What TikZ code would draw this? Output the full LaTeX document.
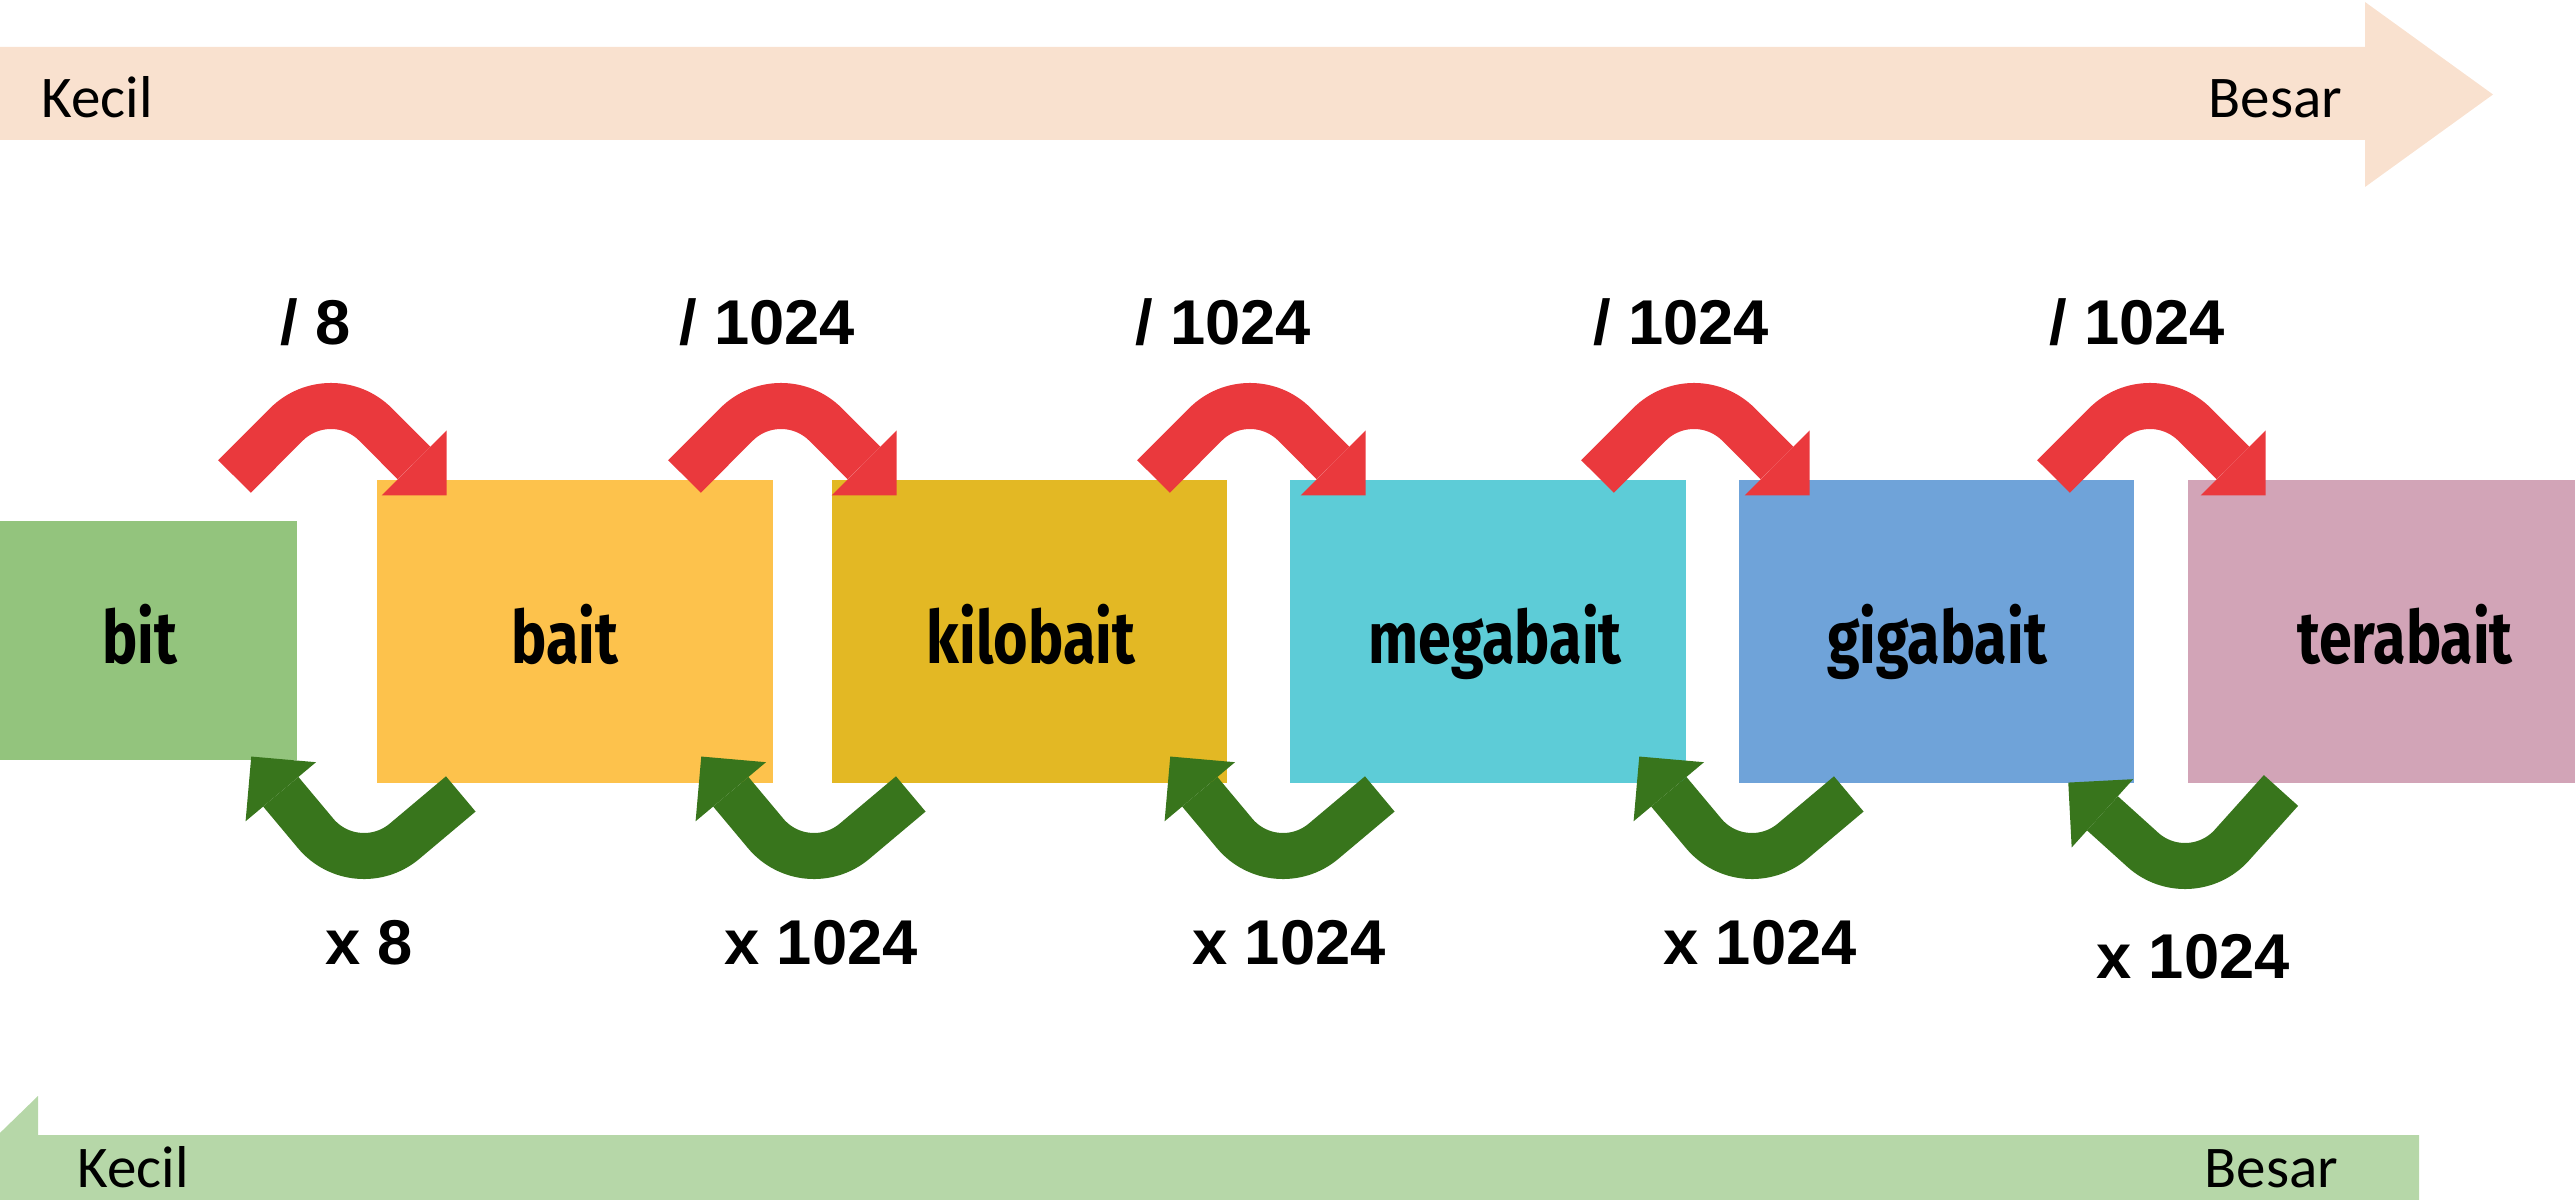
\documentclass[tikz,border=0pt]{standalone}
\usepackage{fontspec}
\newfontfamily\boxfont{Fira Sans}[FakeStretch=0.81]
\newfontfamily\numfont{Liberation Sans}
\newfontfamily\bandfont{Carlito}
\definecolor{bitc}{HTML}{93C47D}
\definecolor{baitc}{HTML}{FDC24C}
\definecolor{kiloc}{HTML}{E3B824}
\definecolor{megac}{HTML}{5DCCD7}
\definecolor{gigac}{HTML}{6FA3D9}
\definecolor{terac}{HTML}{D2A4B7}
\definecolor{redc}{HTML}{EA393D}
\definecolor{greenc}{HTML}{38751C}
\definecolor{topband}{HTML}{F9E1CF}
\definecolor{botband}{HTML}{B6D7A8}
\begin{document}
\begin{tikzpicture}[x=0.01cm,y=0.01cm,
  unitbox/.style={inner sep=0pt, outer sep=0pt, minimum height=3.03cm},
  boxlabel/.style={anchor=base, inner sep=0pt, font=\boxfont\bfseries\fontsize{20.8pt}{24pt}\selectfont},
  numlabel/.style={anchor=base, inner sep=0pt, font=\numfont\bfseries\fontsize{18pt}{21pt}\selectfont},
  bandlabel/.style={anchor=base west, inner sep=0pt, font=\bandfont\fontsize{16.8pt}{20pt}\selectfont},
  turnarrow/.pic={
    \coordinate (-tail) at (-96.5,-7.5);
    \coordinate (-base) at (83,6);
    \coordinate (-tip) at (115.5,-26.5);
    \draw[line width=0.46cm, draw=#1] (-tail) -- ++(51.95,52.05)
      arc[start angle=135, end angle=45, radius=63] -- (-base);
    \fill[#1] (-tip) -- (115.5,38.5) -- (50.5,-26.5) -- cycle;
  }
]
\useasboundingbox (0,0) rectangle (2575,1199);
\clip (0,0) rectangle (2575,1199);

% direction bands
\fill[topband] (0,1059) -- (2365,1059) -- (2365,1012) -- (2493,1104.5)
  -- (2365,1197) -- (2365,1152) -- (0,1152) -- cycle;
\fill[botband] (2419,64) -- (38,64) -- (38,103) -- (-50,17.5)
  -- (38,-68) -- (38,-29) -- (2419,-29) -- cycle;
\node[bandlabel] (tkecil) at (41,1081) {Kecil};
\node[bandlabel] (tbesar) at (2208,1081) {Besar};
\node[bandlabel] (bkecil) at (77,12) {Kecil};
\node[bandlabel] (bbesar) at (2204,12) {Besar};

% unit boxes
\node[unitbox, fill=bitc, minimum width=2.97cm, minimum height=2.39cm] (bit) at (148.5,558.5) {};
\node[unitbox, fill=baitc, minimum width=3.96cm] (bait) at (575,567.5) {};
\node[unitbox, fill=kiloc, minimum width=3.95cm] (kilo) at (1029.5,567.5) {};
\node[unitbox, fill=megac, minimum width=3.96cm] (mega) at (1488,567.5) {};
\node[unitbox, fill=gigac, minimum width=3.95cm] (giga) at (1936.5,567.5) {};
\node[unitbox, fill=terac, minimum width=4.34cm] (tera) at (2405,567.5) {};

\node[boxlabel] (bitl) at (140,536) {bit};
\node[boxlabel] (baitl) at (565,536) {bait};
\node[boxlabel] (kilol) at (1031,536) {kilobait};
\node[boxlabel] (megal) at (1495,536) {megabait};
\node[boxlabel] (gigal) at (1937,536) {gigabait};
\node[boxlabel] (teral) at (2405,536) {terabait};

% conversion arrows (divide: red, multiply: green)
\pic (r1) at (331,730) {turnarrow=redc};
\pic (r2) at (781,730) {turnarrow=redc};
\pic (r3) at (1250,730) {turnarrow=redc};
\pic (r4) at (1694,730) {turnarrow=redc};
\pic (r5) at (2150,730) {turnarrow=redc};
\pic[rotate=175] (g1) at (364,406) {turnarrow=greenc};
\pic[rotate=175] (g2) at (814,406) {turnarrow=greenc};
\pic[rotate=175] (g3) at (1283,406) {turnarrow=greenc};
\pic[rotate=175] (g4) at (1752,406) {turnarrow=greenc};
\pic[rotate=183] (g5) at (2185,396) {turnarrow=greenc};

% factors
\node[numlabel] (d1) at (316,854) {/ 8};
\node[numlabel] (d2) at (767,854) {/ 1024};
\node[numlabel] (d3) at (1223,854) {/ 1024};
\node[numlabel] (d4) at (1681,854) {/ 1024};
\node[numlabel] (d5) at (2137,854) {/ 1024};
\node[numlabel] (m1) at (369,235) {x 8};
\node[numlabel] (m2) at (821,235) {x 1024};
\node[numlabel] (m3) at (1289,235) {x 1024};
\node[numlabel] (m4) at (1760,235) {x 1024};
\node[numlabel] (m5) at (2193,221) {x 1024};
\end{tikzpicture}
\end{document}
